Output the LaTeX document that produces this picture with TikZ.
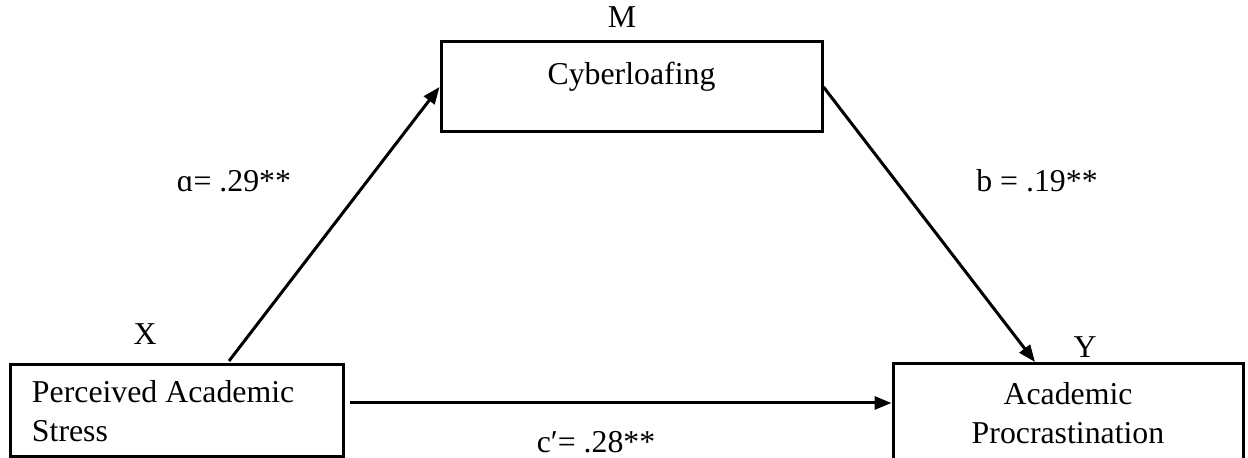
\documentclass[tikz,border=0pt]{standalone}
\usepackage{fontspec}
\setmainfont{Liberation Serif}
\usetikzlibrary{arrows.meta}
\tikzset{
>={Triangle[length=8.5pt,width=6.5pt]},
  varbox/.style={
    rectangle,
    draw=black, line width=1.5pt,
    font=\fontsize{15.9}{19.5}\selectfont},
  line/.style={draw, line width=1.5pt, ->},
  coef/.style={inner sep=0pt, font=\fontsize{15.9}{19.5}\selectfont},
}

\begin{document}
\begin{tikzpicture}[x=0.5pt,y=-0.5pt]
\useasboundingbox (0,0) rectangle (1248,458);
% the three variables
\node[varbox, minimum width=190.5pt, minimum height=45pt,
      text height=10pt, text depth=12pt] (cyb) at (631.5,87) {Cyberloafing};
\node[varbox, minimum width=166.5pt, minimum height=46pt,
      inner xsep=11pt, text width=144.5pt, align=flush left] (pas) at (176.5,411)
      {Perceived Academic\\ Stress};
\node[varbox, minimum width=175pt, minimum height=49pt,
      align=center] (acp) at (1068,413) {Academic\\ Procrastination};
% letters over the boxes
\node[coef, anchor=base] (mlab) at (622,28) {M};
\node[coef, anchor=base] (xlab) at (145,345) {X};
\node[coef, anchor=base] (ylab) at (1085,358) {Y};
% paths
\coordinate (aStart) at (229,361);
\coordinate (bEnd) at (1035,362);
\coordinate (cStart) at (350,403);
\draw[line] (aStart) -- (cyb.west);
\draw[line] (cyb.east) -- (bEnd);
\draw[line] (cStart) -- (cStart -| acp.west);
% coefficients
\node[coef, anchor=base] (alab) at (234,192) {ɑ= .29**};
\node[coef, anchor=base] (blab) at (1037,192) {b = .19**};
\node[coef, anchor=base] (clab) at (596,453) {c′= .28**};
\end{tikzpicture}
\end{document}
